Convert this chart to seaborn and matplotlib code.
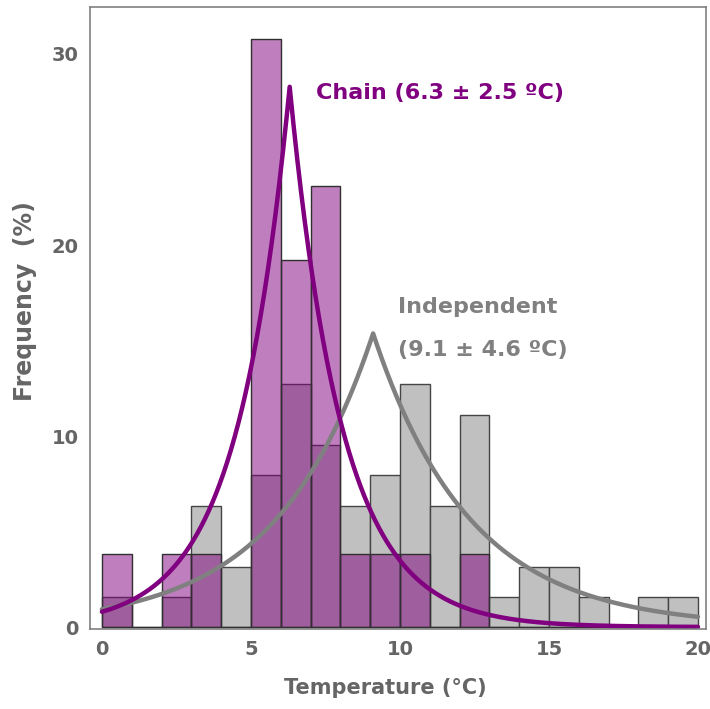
import numpy as np
import pandas as pd
import seaborn as sns
import matplotlib.pyplot as plt

# bin edges (1 degree bins) and frequencies (%)
bin_left = list(range(20))
chain_pct = [3.85, 0, 3.85, 3.85, 0, 30.77, 19.23, 23.08, 3.85, 3.85,
             3.85, 0, 3.85, 0, 0, 0, 0, 0, 0, 0]
indep_pct = [1.59, 0, 1.59, 6.35, 3.17, 7.94, 12.70, 9.52, 6.35, 7.94,
             12.70, 6.35, 11.11, 1.59, 3.17, 3.17, 1.59, 0, 1.59, 1.59]

# fitted Laplace curves (mean, sd) as labelled
chain_fit = (6.3, 2.5)
indep_fit = (9.1, 4.6)

purple = '#800080'
grey = '#808080'
text_grey = '#656565'

sns.set_style('white')
plt.rcParams['font.family'] = ['DejaVu Sans']
plt.rcParams['font.weight'] = 'bold'

df = pd.DataFrame({'centre': np.array(bin_left) + 0.5,
                   'chain': chain_pct, 'indep': indep_pct})

fig = plt.figure(figsize=(7.10, 7.09), dpi=100)
ax = fig.add_axes([90/710, 80/709, 616/710, 622/709])

sns.histplot(data=df, x='centre', weights='indep', binwidth=1,
             binrange=(0, 20), ax=ax, color='#c0c0c0', alpha=1,
             edgecolor='#454545', linewidth=1)
sns.histplot(data=df, x='centre', weights='chain', binwidth=1,
             binrange=(0, 20), ax=ax, color=purple, alpha=0.5,
             edgecolor='#303030', linewidth=1)


def laplace(x, mu, sd):
    b = sd / np.sqrt(2)
    return 100 / (2 * b) * np.exp(-np.abs(x - mu) / b)


xs = np.linspace(0, 20, 801)
curves = pd.DataFrame({'x': xs,
                       'indep': laplace(xs, *indep_fit),
                       'chain': laplace(xs, *chain_fit)})
sns.lineplot(data=curves, x='x', y='indep', ax=ax, color=grey, lw=3.2)
sns.lineplot(data=curves, x='x', y='chain', ax=ax, color=purple, lw=3.2)

ax.text(7.2, 27.95, 'Chain (6.3 ± 2.5 ºC)', color=purple, fontsize=16,
        fontweight='bold', va='center', ha='left')
ax.text(9.93, 16.75, 'Independent', color=grey, fontsize=16,
        fontweight='bold', va='center', ha='left')
ax.text(9.93, 14.5, '(9.1 ± 4.6 ºC)', color=grey, fontsize=16,
        fontweight='bold', va='center', ha='left')

ax.set_xlim(-0.4, 20.27)
ax.set_ylim(-0.1, 32.46)
ax.set_xticks([0, 5, 10, 15, 20])
ax.set_yticks([0, 10, 20, 30])
ax.tick_params(direction='in', length=6, width=1, color=grey,
               labelsize=14, labelcolor=text_grey, pad=8)
for lab in ax.get_xticklabels() + ax.get_yticklabels():
    lab.set_fontweight('bold')
ax.set_xlabel('Temperature (°C)', fontsize=15, fontweight='bold',
              color=text_grey)
ax.set_ylabel('Frequency  (%)', fontsize=17, fontweight='bold',
              color=text_grey)
ax.xaxis.set_label_coords(0.479, -0.078)
ax.yaxis.set_label_coords(-0.086, 0.527)
for sp in ax.spines.values():
    sp.set_color(grey)
    sp.set_linewidth(1.2)
    sp.set_visible(True)

fig.savefig('out.png', dpi=100)
